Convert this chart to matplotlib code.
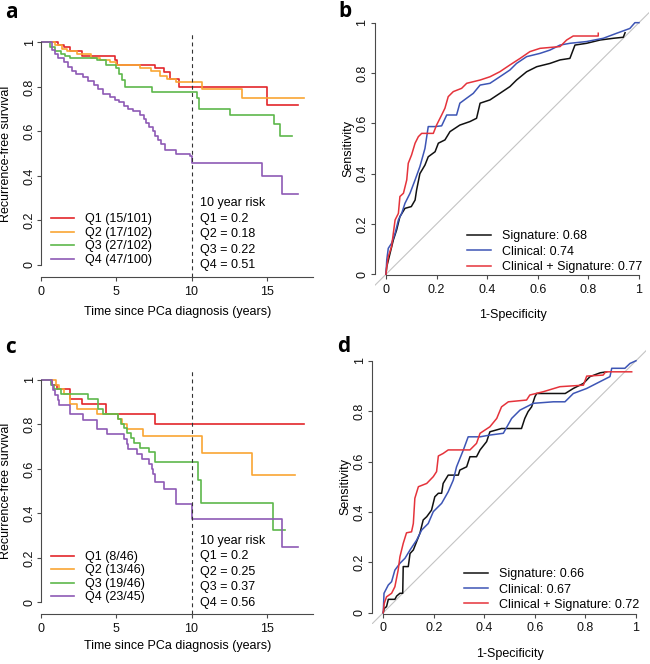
import matplotlib

matplotlib.use("Agg")
import matplotlib.pyplot as plt
from matplotlib.lines import Line2D

plt.rcParams["font.family"] = ["Liberation Sans", "DejaVu Sans"]
plt.rcParams["font.size"] = 9

AXIS = "#4a4a4a"
KM_COLORS = ["#E3262B", "#F9A634", "#5DB84B", "#8E5AB5"]
ROC_COLORS = ["#111111", "#3D55B5", "#E5333B"]

# ---- panel a: Kaplan-Meier, training cohort ----
A_Q1_T = [0, 1.1, 1.5, 1.95, 2.7, 4.9, 5.05, 7.6, 8.15, 8.6, 9.15, 15.0, 17.1]
A_Q1_S = [1, 0.99, 0.98, 0.96, 0.94, 0.92, 0.90, 0.885, 0.865, 0.835, 0.80, 0.72, 0.72]
A_Q2_T = [0, 0.95, 1.4, 1.7, 2.4, 3.3, 3.9, 4.6, 5.0, 6.6, 7.3, 7.9, 8.4, 9.0, 10.7, 13.35, 17.45]
A_Q2_S = [1, 0.99, 0.97, 0.96, 0.95, 0.93, 0.92, 0.91, 0.90, 0.885, 0.87, 0.85, 0.835, 0.82, 0.79, 0.75, 0.75]
A_Q3_T = [0, 0.6, 0.9, 1.3, 1.6, 1.95, 3.7, 4.3, 5.0, 5.2, 5.4, 5.6, 7.4, 10.35, 10.5, 12.55, 15.45, 15.85, 16.65]
A_Q3_S = [1, 0.98, 0.96, 0.95, 0.94, 0.93, 0.92, 0.90, 0.885, 0.86, 0.83, 0.80, 0.775, 0.75, 0.70, 0.675, 0.635, 0.58, 0.58]
A_Q4_T = [0, 0.7, 0.93, 1.15, 1.5, 1.8, 2.05, 2.3, 2.8, 3.15, 3.5, 3.8, 4.1, 4.6, 4.9, 5.15, 5.5, 5.8,
          6.1, 6.6, 6.85, 7.0, 7.2, 7.45, 7.6, 7.8, 8.0, 8.25, 9.0, 9.9, 10.05, 14.7, 16.0, 17.1]
A_Q4_S = [1, 0.967, 0.95, 0.93, 0.91, 0.89, 0.87, 0.86, 0.845, 0.825, 0.81, 0.79, 0.77, 0.755, 0.74, 0.73,
          0.715, 0.70, 0.69, 0.675, 0.655, 0.64, 0.62, 0.60, 0.58, 0.56, 0.545, 0.515, 0.50, 0.49, 0.46,
          0.40, 0.32, 0.32]
A_LABELS = ["Q1 (15/101)", "Q2 (17/102)", "Q3 (27/102)", "Q4 (47/100)"]
A_RISK = ["0.2", "0.18", "0.22", "0.51"]

# ---- panel c: Kaplan-Meier, validation cohort ----
C_Q1_T = [0, 0.75, 1.05, 1.95, 2.7, 4.3, 7.6, 17.5]
C_Q1_S = [1, 0.978, 0.957, 0.913, 0.891, 0.848, 0.803, 0.803]
C_Q2_T = [0, 1.0, 1.2, 1.5, 1.95, 2.4, 3.75, 5.1, 5.4, 5.7, 6.75, 10.7, 14.0, 16.9]
C_Q2_S = [1, 0.978, 0.957, 0.935, 0.891, 0.870, 0.848, 0.826, 0.804, 0.78, 0.748, 0.670, 0.573, 0.573]
C_Q3_T = [0, 0.65, 0.85, 1.3, 3.1, 3.8, 4.1, 5.1, 5.3, 5.5, 5.7, 6.0, 6.2, 6.6, 7.2, 7.6, 10.45, 10.6, 15.4, 16.2]
C_Q3_S = [1, 0.978, 0.957, 0.935, 0.913, 0.87, 0.848, 0.826, 0.804, 0.783, 0.761, 0.739, 0.717, 0.696,
          0.674, 0.633, 0.55, 0.446, 0.326, 0.326]
C_Q4_T = [0, 0.7, 0.8, 0.9, 1.1, 1.2, 1.95, 2.8, 3.7, 4.4, 5.5, 5.7, 5.8, 6.4, 6.7, 7.2, 7.35, 7.45,
          7.55, 8.2, 9.0, 10.05, 16.0, 17.1]
C_Q4_S = [1, 0.978, 0.956, 0.933, 0.911, 0.889, 0.847, 0.822, 0.78, 0.757, 0.735, 0.712, 0.69, 0.667,
          0.645, 0.622, 0.60, 0.578, 0.543, 0.51, 0.443, 0.375, 0.248, 0.248]
C_LABELS = ["Q1 (8/46)", "Q2 (13/46)", "Q3 (19/46)", "Q4 (23/45)"]
C_RISK = ["0.2", "0.25", "0.37", "0.56"]

# ---- panel b: ROC, training cohort ----
B_SIG_FPR = [0, 0.003, 0.016, 0.029, 0.042, 0.055, 0.075, 0.10, 0.115, 0.121, 0.134, 0.154, 0.167, 0.194,
             0.207, 0.233, 0.253, 0.292, 0.332, 0.358, 0.372, 0.411, 0.45, 0.49, 0.516, 0.556, 0.596,
             0.648, 0.688, 0.727, 0.747, 0.793, 0.846, 0.899, 0.938, 0.945]
B_SIG_TPR = [0, 0.03, 0.083, 0.136, 0.176, 0.229, 0.262, 0.269, 0.295, 0.335, 0.40, 0.434, 0.467, 0.487,
             0.521, 0.534, 0.567, 0.593, 0.607, 0.62, 0.68, 0.693, 0.719, 0.746, 0.772, 0.805, 0.825,
             0.838, 0.852, 0.858, 0.911, 0.918, 0.931, 0.938, 0.942, 0.96]
B_CLIN_FPR = [0, 0.003, 0.009, 0.022, 0.036, 0.049, 0.062, 0.075, 0.095, 0.115, 0.134, 0.154, 0.167,
              0.194, 0.22, 0.24, 0.279, 0.292, 0.319, 0.345, 0.372, 0.411, 0.45, 0.49, 0.516, 0.556,
              0.609, 0.648, 0.688, 0.727, 0.793, 0.859, 0.912, 0.964, 0.984, 1.0]
B_CLIN_TPR = [0, 0.057, 0.103, 0.123, 0.163, 0.216, 0.242, 0.282, 0.322, 0.375, 0.428, 0.50, 0.587,
              0.587, 0.59, 0.633, 0.633, 0.68, 0.70, 0.719, 0.752, 0.759, 0.785, 0.812, 0.838, 0.865,
              0.878, 0.891, 0.911, 0.918, 0.925, 0.938, 0.958, 0.977, 1.0, 1.0]
B_COMB_FPR = [0, 0.003, 0.009, 0.022, 0.029, 0.036, 0.049, 0.055, 0.069, 0.082, 0.088, 0.101, 0.115,
              0.128, 0.141, 0.187, 0.20, 0.22, 0.233, 0.246, 0.266, 0.299, 0.319, 0.372, 0.411, 0.45,
              0.49, 0.53, 0.569, 0.609, 0.688, 0.714, 0.74, 0.839, 0.839]
B_COMB_TPR = [0, 0.03, 0.07, 0.11, 0.163, 0.216, 0.242, 0.309, 0.322, 0.375, 0.441, 0.474, 0.521, 0.547,
              0.56, 0.56, 0.593, 0.633, 0.66, 0.706, 0.726, 0.739, 0.759, 0.772, 0.785, 0.805, 0.832,
              0.858, 0.885, 0.898, 0.905, 0.931, 0.947, 0.947, 0.958]
B_LABELS = ["Signature: 0.68", "Clinical: 0.74", "Clinical + Signature: 0.77"]

# ---- panel d: ROC, validation cohort ----
D_SIG_FPR = [0, 0.004, 0.013, 0.02, 0.046, 0.053, 0.066, 0.077, 0.079, 0.099, 0.106, 0.119, 0.132, 0.145,
             0.158, 0.172, 0.191, 0.204, 0.218, 0.231, 0.237, 0.257, 0.297, 0.303, 0.33, 0.343, 0.369,
             0.383, 0.409, 0.422, 0.468, 0.547, 0.56, 0.573, 0.587, 0.60, 0.607, 0.72, 0.752, 0.792,
             0.818, 0.858, 0.884]
D_SIG_TPR = [0, 0.017, 0.024, 0.053, 0.053, 0.066, 0.077, 0.077, 0.183, 0.183, 0.235, 0.249, 0.282, 0.315,
             0.368, 0.381, 0.407, 0.46, 0.474, 0.474, 0.513, 0.546, 0.546, 0.566, 0.579, 0.619, 0.619,
             0.646, 0.679, 0.718, 0.731, 0.731, 0.771, 0.798, 0.817, 0.857, 0.87, 0.87, 0.89, 0.91,
             0.937, 0.952, 0.956]
D_CLIN_FPR = [0, 0.003, 0.02, 0.033, 0.046, 0.066, 0.086, 0.106, 0.132, 0.152, 0.178, 0.198, 0.231, 0.257,
              0.277, 0.29, 0.317, 0.336, 0.383, 0.422, 0.475, 0.508, 0.541, 0.594, 0.673, 0.719, 0.752,
              0.805, 0.844, 0.897, 0.904, 0.956, 0.976, 1.0]
D_CLIN_TPR = [0, 0.077, 0.11, 0.123, 0.169, 0.196, 0.216, 0.249, 0.288, 0.328, 0.354, 0.401, 0.434, 0.48,
              0.526, 0.579, 0.646, 0.698, 0.698, 0.705, 0.712, 0.771, 0.804, 0.831, 0.837, 0.837, 0.87,
              0.89, 0.91, 0.937, 0.97, 0.97, 0.989, 1.0]
D_COMB_FPR = [0, 0.004, 0.013, 0.033, 0.046, 0.059, 0.066, 0.079, 0.092, 0.112, 0.119, 0.125, 0.139,
              0.172, 0.198, 0.211, 0.218, 0.237, 0.257, 0.343, 0.369, 0.383, 0.422, 0.449, 0.468, 0.495,
              0.567, 0.58, 0.633, 0.699, 0.792, 0.805, 0.87, 0.88, 0.983]
D_COMB_TPR = [0, 0.037, 0.063, 0.077, 0.103, 0.169, 0.222, 0.275, 0.317, 0.321, 0.354, 0.454, 0.50,
              0.513, 0.54, 0.56, 0.622, 0.632, 0.646, 0.646, 0.672, 0.712, 0.738, 0.771, 0.817, 0.837,
              0.844, 0.864, 0.877, 0.897, 0.903, 0.939, 0.943, 0.956, 0.956]
D_LABELS = ["Signature: 0.66", "Clinical: 0.67", "Clinical + Signature: 0.72"]

KM_YTICKS = [0, 0.2, 0.4, 0.6, 0.8, 1]
KM_YLABELS = ["0", "0.2", "0.4", "0.6", "0.8", "1"]
KM_XTICKS = [0, 5, 10, 15]
ROC_TICKS = [0, 0.2, 0.4, 0.6, 0.8, 1]
ROC_LABELS = ["0", "0.2", "0.4", "0.6", "0.8", "1"]


def style_axes(ax):
    for side in ("top", "right"):
        ax.spines[side].set_visible(False)
    for side in ("left", "bottom"):
        ax.spines[side].set_color(AXIS)
        ax.spines[side].set_linewidth(0.8)
    ax.tick_params(direction="out", length=2.6, width=0.8, color=AXIS, labelcolor="#111111")


def km_panel(ax, curves, labels, risks, xlabel_y):
    for (t, s), col in zip(curves, KM_COLORS):
        ax.step(t, s, where="post", color=col, lw=1.2)
    ax.axvline(10, color="#333333", lw=0.8, dashes=(3.5, 3))
    ax.set_xlim(0, 18.1)
    ax.set_ylim(-0.0526, 1.041)
    style_axes(ax)
    ax.spines["left"].set_bounds(0, 1)
    ax.set_xticks(KM_XTICKS)
    ax.set_yticks(KM_YTICKS)
    ax.set_yticklabels(KM_YLABELS, rotation=90, va="center")
    ax.tick_params(axis="x", pad=4)
    ax.tick_params(axis="y", pad=1.2)
    ax.set_xlabel("Time since PCa diagnosis (years)")
    ax.set_ylabel("Recurrence-free survival")
    ax.xaxis.set_label_coords(0.5, xlabel_y)
    ax.yaxis.set_label_coords(-0.105, 0.505)
    handles = [Line2D([], [], color=c, lw=1.2) for c in KM_COLORS]
    ax.legend(handles, labels, loc="center left", bbox_to_anchor=(0.035, 0.152),
              frameon=False, handlelength=1.85, handletextpad=0.9, labelspacing=0.12,
              borderpad=0, borderaxespad=0)
    risk_text = "10 year risk\n" + "\n".join(f"Q{i + 1} = {r}" for i, r in enumerate(risks))
    ax.text(10.56, 0.304, risk_text, va="top", ha="left", linespacing=1.38)


def roc_panel(ax, curves, labels, leg_y):
    ax.axline((0, 0), (1, 1), color="#c4c4c4", lw=0.8, zorder=1)
    for (x, y), col in zip(curves, ROC_COLORS):
        ax.plot(x, y, color=col, lw=1.1, zorder=3)
    ax.set_xlim(-0.043, 1.04)
    ax.set_ylim(-0.045, 1.05)
    style_axes(ax)
    ax.spines["left"].set_bounds(0, 1)
    ax.spines["bottom"].set_bounds(0, 1)
    ax.spines["bottom"].set_position(("data", -0.004))
    ax.set_xticks(ROC_TICKS)
    ax.set_xticklabels(ROC_LABELS)
    ax.set_yticks(ROC_TICKS)
    ax.set_yticklabels(ROC_LABELS, rotation=90, va="center")
    ax.tick_params(axis="x", pad=3.4)
    ax.tick_params(axis="y", pad=2.2)
    ax.set_xlabel("1-Specificity")
    ax.set_ylabel("Sensitivity")
    ax.xaxis.set_label_coords(0.504, -0.086)
    ax.yaxis.set_label_coords(-0.076, 0.498)
    handles = [Line2D([], [], color=c, lw=1.1) for c in ROC_COLORS]
    ax.legend(handles, labels, loc="center left", bbox_to_anchor=(0.335, leg_y),
              frameon=False, handlelength=1.9, handletextpad=0.88, labelspacing=0.26,
              borderpad=0, borderaxespad=0)


fig = plt.figure(figsize=(6.5, 6.64), dpi=100)
ax_a = fig.add_axes([0.06308, 0.5833, 0.4191, 0.3666])
ax_b = fig.add_axes([0.5771, 0.5699, 0.4215, 0.4149])
ax_c = fig.add_axes([0.06308, 0.0750, 0.4191, 0.3666])
ax_d = fig.add_axes([0.5729, 0.0602, 0.4211, 0.4155])

km_panel(ax_a, [(A_Q1_T, A_Q1_S), (A_Q2_T, A_Q2_S), (A_Q3_T, A_Q3_S), (A_Q4_T, A_Q4_S)],
         A_LABELS, A_RISK, -0.12)
km_panel(ax_c, [(C_Q1_T, C_Q1_S), (C_Q2_T, C_Q2_S), (C_Q3_T, C_Q3_S), (C_Q4_T, C_Q4_S)],
         C_LABELS, C_RISK, -0.105)
roc_panel(ax_b, [(B_SIG_FPR, B_SIG_TPR), (B_CLIN_FPR, B_CLIN_TPR), (B_COMB_FPR, B_COMB_TPR)],
          B_LABELS, 0.123)
roc_panel(ax_d, [(D_SIG_FPR, D_SIG_TPR), (D_CLIN_FPR, D_CLIN_TPR), (D_COMB_FPR, D_COMB_TPR)],
          D_LABELS, 0.125)

for letter, x, y in [("a", 5, 18), ("b", 338, 17), ("c", 5, 353), ("d", 337, 352)]:
    fig.text(x / 650, 1 - y / 664, letter, fontsize=15, fontweight="bold",
             family=["Open Sans", "DejaVu Sans"], ha="left", va="baseline")

fig.savefig("out.png", dpi=100, facecolor="white")
